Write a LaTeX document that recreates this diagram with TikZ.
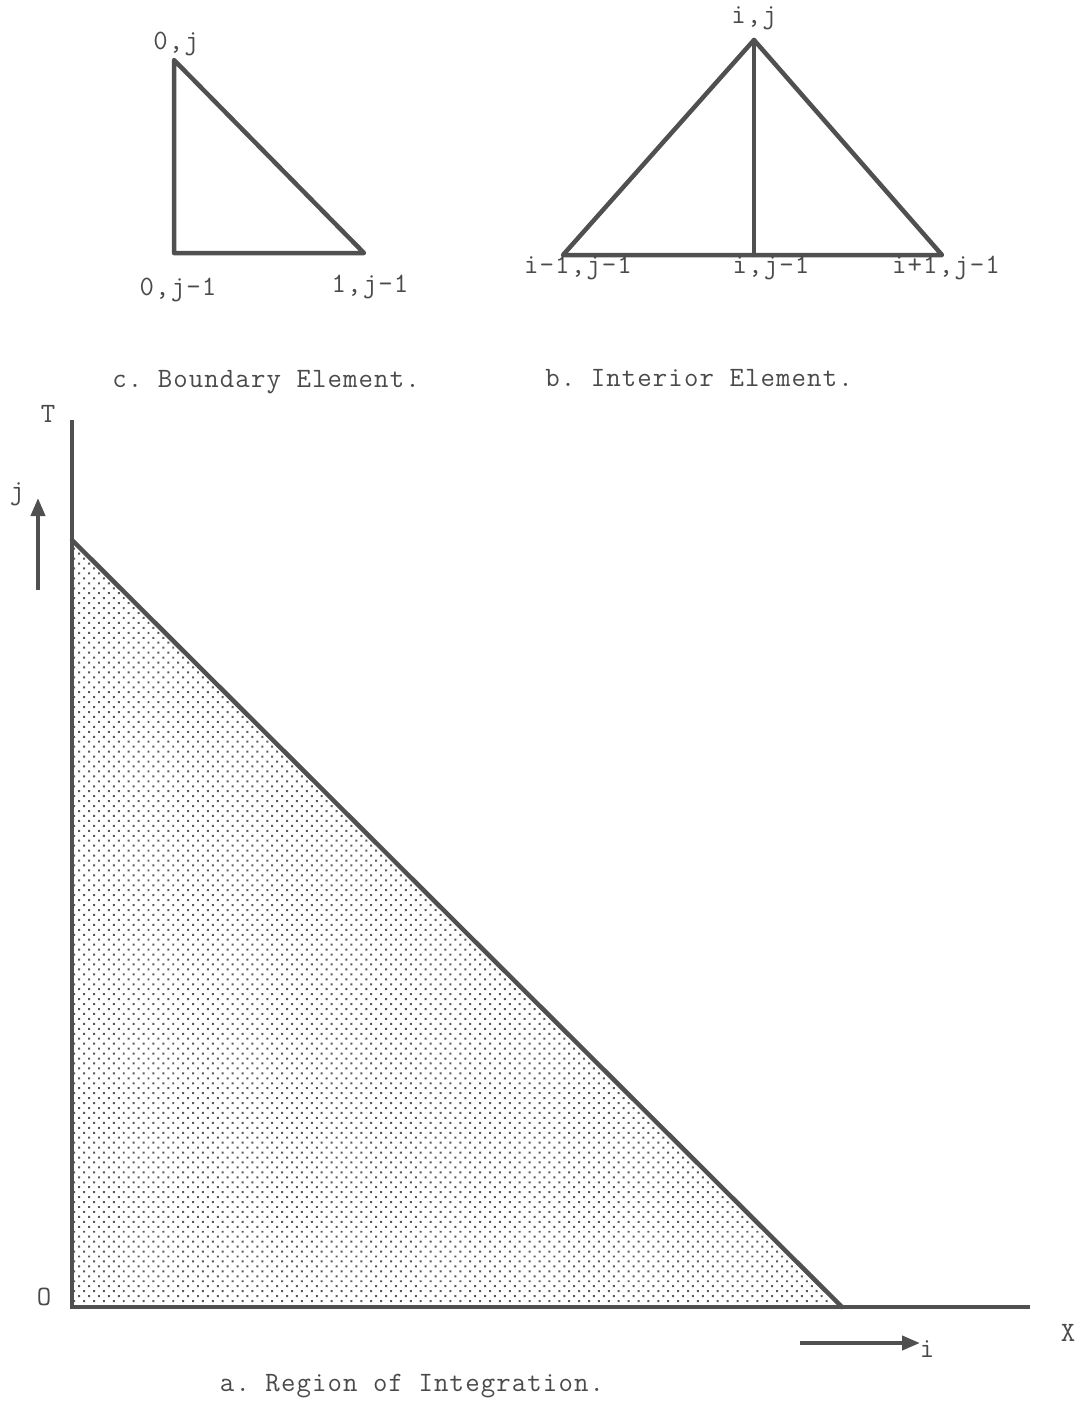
\documentclass[tikz,border=0pt]{standalone}
\usepackage{fontspec}
\setmonofont[LetterSpace=4]{Latin Modern Mono}
\usetikzlibrary{arrows.meta,patterns.meta}
\definecolor{ink}{HTML}{505050}
\definecolor{txt}{HTML}{4a4a4a}
\begin{document}
\begin{tikzpicture}[x=1pt,y=-1pt,
  edge/.style={draw=ink,line width=4.5pt,line join=round,line cap=round},
  lbl/.style={text=txt,font=\ttfamily\fontsize{28}{32}\selectfont,inner sep=0pt},
  axis/.style={draw=ink,line width=4pt},
  dirarrow/.style={draw=ink,line width=4pt,-{Triangle[length=18pt,width=14pt]}}]
\useasboundingbox (0,0) rectangle (1083,1405);
% ---------- c. Boundary element
\coordinate (c0j) at (174,60);
\coordinate (c0j1) at (174,253);
\coordinate (c1j1) at (364,253);
\draw[edge] (c0j) -- (c0j1) -- (c1j1) -- cycle;
\node[lbl] (lc0j) at (176,44) {0,j};
\node[lbl] (lc0j1) at (178,290) {0,j-1};
\node[lbl] (lc1j1) at (370,287) {1,j-1};
\node[lbl] (capc) at (266,382) {c. Boundary Element.};
% ---------- b. Interior element
\coordinate (bij) at (754,40);
\coordinate (bl) at (563,255);
\coordinate (bm) at (754,255);
\coordinate (br) at (942,255);
\draw[edge] (bij) -- (bl) -- (br) -- cycle;
\draw[edge] (bij) -- (bm);
\node[lbl] (lbij) at (754,18) {i,j};
\node[lbl] (lbl) at (578,268) {i-1,j-1};
\node[lbl] (lbm) at (771,268) {i,j-1};
\node[lbl] (lbr) at (946,268) {i+1,j-1};
\node[lbl] (capb) at (699,378) {b. Interior Element.};
% ---------- a. Region of integration
\coordinate (orig) at (72,1307);
\coordinate (ttop) at (72,420);
\coordinate (xend) at (1030,1307);
\coordinate (apex) at (72,540);
\coordinate (foot) at (842,1307);
\fill[pattern={Dots[distance=7pt,radius=1.4pt,angle=45]},pattern color=gray!70!black] (apex) -- (orig) -- (foot) -- cycle;
\draw[edge] (apex) -- (foot);
\draw[axis] (ttop) -- (orig) -- (xend);
\node[lbl] (lT) at (48,414) {T};
\node[lbl] (lO) at (44,1297) {O};
\node[lbl] (lX) at (1068,1333) {X};
\coordinate (ja) at (38,590);
\coordinate (jb) at (38,498);
\draw[dirarrow] (ja) -- (jb);
\node[lbl] (lj) at (17,494) {j};
\coordinate (ia) at (800,1343);
\coordinate (ib) at (920,1343);
\draw[dirarrow] (ia) -- (ib);
\node[lbl] (li) at (927,1349) {i};
\node[lbl] (capa) at (412,1386) {a. Region of Integration.};
\end{tikzpicture}
\end{document}
